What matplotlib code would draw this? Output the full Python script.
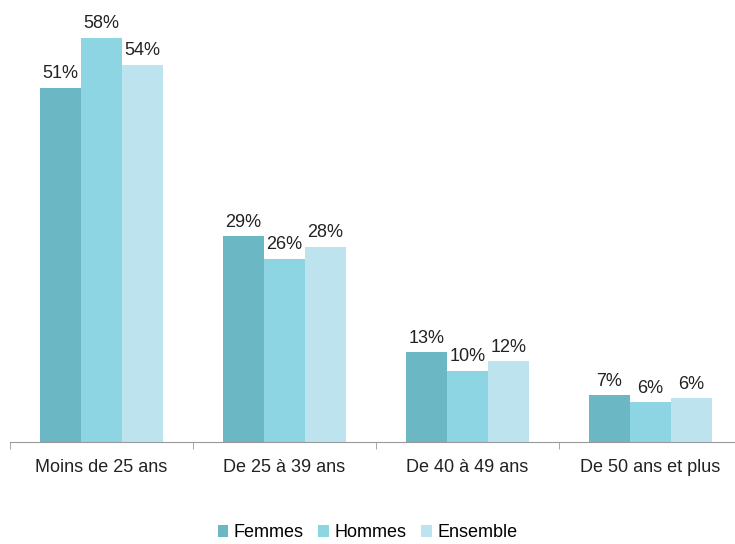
import matplotlib.pyplot as plt
import numpy as np

categories = ['Moins de 25 ans', 'De 25 à 39 ans', 'De 40 à 49 ans', 'De 50 ans et plus']
series = ['Femmes', 'Hommes', 'Ensemble']
femmes = [50.8, 29.5, 12.9, 6.7]
hommes = [58.0, 26.3, 10.2, 5.7]
ensemble = [54.1, 28.0, 11.6, 6.3]
labels_f = ['51%', '29%', '13%', '7%']
labels_h = ['58%', '26%', '10%', '6%']
labels_e = ['54%', '28%', '12%', '6%']
colors = ['#6BB8C4', '#8DD5E3', '#BDE3EF']

plt.rcParams['font.family'] = ['Liberation Sans', 'DejaVu Sans']
fs = 13

fig = plt.figure(figsize=(7.35, 5.44), dpi=100)
ax = fig.add_axes([10 / 735, 1 - 442 / 544, 732 / 735, 442 / 544])

x = np.arange(len(categories))
w = 0.224
data = [(femmes, labels_f), (hommes, labels_h), (ensemble, labels_e)]
for i, (vals, labs) in enumerate(data):
    rects = ax.bar(x + (i - 1) * w, vals, w, color=colors[i], label=series[i])
    for rect, lab in zip(rects, labs):
        ax.annotate(lab, xy=(rect.get_x() + rect.get_width() / 2, rect.get_height()),
                    xytext=(0, 4), textcoords='offset points',
                    ha='center', va='bottom', fontsize=fs, color='#222222')

ax.set_xlim(-0.5, 3.5)
ax.set_ylim(0, 63.4)
ax.set_yticks([])
for s in ['top', 'right', 'left']:
    ax.spines[s].set_visible(False)
ax.spines['bottom'].set_color('#999999')
ax.set_xticks(x)
ax.set_xticklabels(categories, fontsize=fs, color='#222222')
ax.tick_params(axis='x', which='major', length=0, pad=12)
ax.set_xticks(np.arange(-0.5, 4, 1), minor=True)
ax.tick_params(axis='x', which='minor', length=5, color='#999999')

fig.legend(loc='lower center', bbox_to_anchor=(0.5, -0.025), ncol=3, frameon=False,
           fontsize=fs, handlelength=0.6, handleheight=0.6, handletextpad=0.3,
           columnspacing=0.8)

plt.savefig('out.png', dpi=100)
